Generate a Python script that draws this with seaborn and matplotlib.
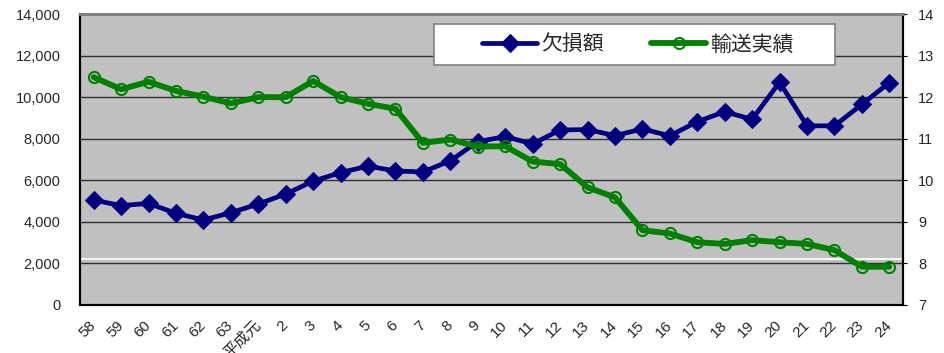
import matplotlib
matplotlib.use("Agg")
import matplotlib.pyplot as plt
from matplotlib.patches import Rectangle
import seaborn as sns
import pandas as pd
import numpy as np

# fiscal years (Showa 58 .. Heisei 24)
years = ["58", "59", "60", "61", "62", "63", "平成元", "2", "3", "4", "5", "6",
         "7", "8", "9", "10", "11", "12", "13", "14", "15", "16", "17", "18",
         "19", "20", "21", "22", "23", "24"]

# deficit (left axis)
deficit = [5050, 4780, 4890, 4410, 4090, 4440, 4860, 5340, 5960, 6370,
           6680, 6450, 6400, 6940, 7860, 8100, 7750, 8420, 8440, 8150,
           8470, 8140, 8820, 9300, 8930, 10720, 8620, 8620, 9650, 10700]

# transport volume (right axis)
transport = [12.48, 12.19, 12.37, 12.15, 12.01, 11.85, 12.0, 12.0, 12.39, 12.0,
             11.84, 11.72, 10.90, 10.98, 10.81, 10.82, 10.45, 10.39, 9.83, 9.59,
             8.80, 8.72, 8.51, 8.47, 8.56, 8.51, 8.47, 8.32, 7.92, 7.92]

df = pd.DataFrame({"pos": np.arange(len(years)), "deficit": deficit,
                   "transport": transport})

sns.set_style("white")
plt.rcParams["font.family"] = ["Liberation Sans", "Noto Sans CJK JP"]

fig = plt.figure(figsize=(9.45, 3.53), dpi=100)
ax = fig.add_axes([80 / 945, 48 / 353, 823 / 945, 291 / 353])
ax.set_facecolor("#c0c0c0")

blue = "#000080"
green = "#008000"

sns.lineplot(data=df, x="pos", y="deficit", ax=ax, color=blue, lw=3.4,
             marker="D", markeredgecolor=blue, markerfacecolor=blue,
             label="欠損額", legend=False)
ax.lines[-1].set_markersize(14)
ax.axhline(2200, color="white", lw=1.2, zorder=1)

ax2 = ax.twinx()
sns.lineplot(data=df, x="pos", y="transport", ax=ax2, color=green, lw=4.2,
             marker="o", markeredgecolor=green, markerfacecolor="none",
             label="輸送実績", legend=False)
ax2.lines[-1].set_markersize(11)
ax2.lines[-1].set_markeredgewidth(1.5)

ax.set_xlim(-0.5, len(years) - 0.5)
ax.set_ylim(0, 14000)
ax2.set_ylim(7, 14)

ax.set_yticks(np.arange(0, 14001, 2000))
ax.set_yticklabels([f"{v:,}" for v in range(0, 14001, 2000)], fontsize=10.5)
ax2.set_yticks(np.arange(7, 15))
ax2.set_yticklabels([str(v) for v in range(7, 15)], fontsize=10.5)

ax.grid(axis="y", color="#303030", lw=1)
ax.set_axisbelow(True)

ax.set_xticks(np.arange(len(years)))
ax.set_xticklabels(years, rotation=45, ha="right", va="center",
                   rotation_mode="anchor", fontsize=11)
ax.set_xticks(np.arange(len(years) + 1) - 0.5, minor=True)
ax.tick_params(axis="x", which="major", length=0, pad=13)
ax.tick_params(axis="x", which="minor", length=4, direction="in",
               color="black", width=1)
ax.tick_params(axis="y", length=0, pad=14)
ax2.tick_params(axis="y", length=3, direction="out", pad=8, color="black")

ax.set_xlabel("")
ax.set_ylabel("")
ax2.set_ylabel("")

for a in (ax, ax2):
    a.spines["left"].set_color("black")
    a.spines["left"].set_linewidth(1.5)
    a.spines["bottom"].set_color("black")
    a.spines["bottom"].set_linewidth(1.5)
    a.spines["top"].set_color("#808080")
    a.spines["top"].set_linewidth(2)
    a.spines["right"].set_color("black")
    a.spines["right"].set_linewidth(1.5)

# legend box, wider than the entries it holds
box = Rectangle((0.430, 0.825), 0.487, 0.141, transform=ax2.transAxes,
                facecolor="white", edgecolor="#808080", lw=1.2, zorder=4)
ax2.add_patch(box)

h1, l1 = ax.get_legend_handles_labels()
h2, l2 = ax2.get_legend_handles_labels()
h1[0].set_markersize(9)
h2[0].set_markersize(8)
leg = ax2.legend(h1 + h2, l1 + l2, ncol=2, loc="center",
                 bbox_to_anchor=(0.678, 0.895), borderaxespad=0,
                 frameon=False, fontsize=15, handlelength=2.65,
                 columnspacing=2.25, handletextpad=0.2)
leg.set_zorder(5)

fig.savefig("out.png", dpi=100)
